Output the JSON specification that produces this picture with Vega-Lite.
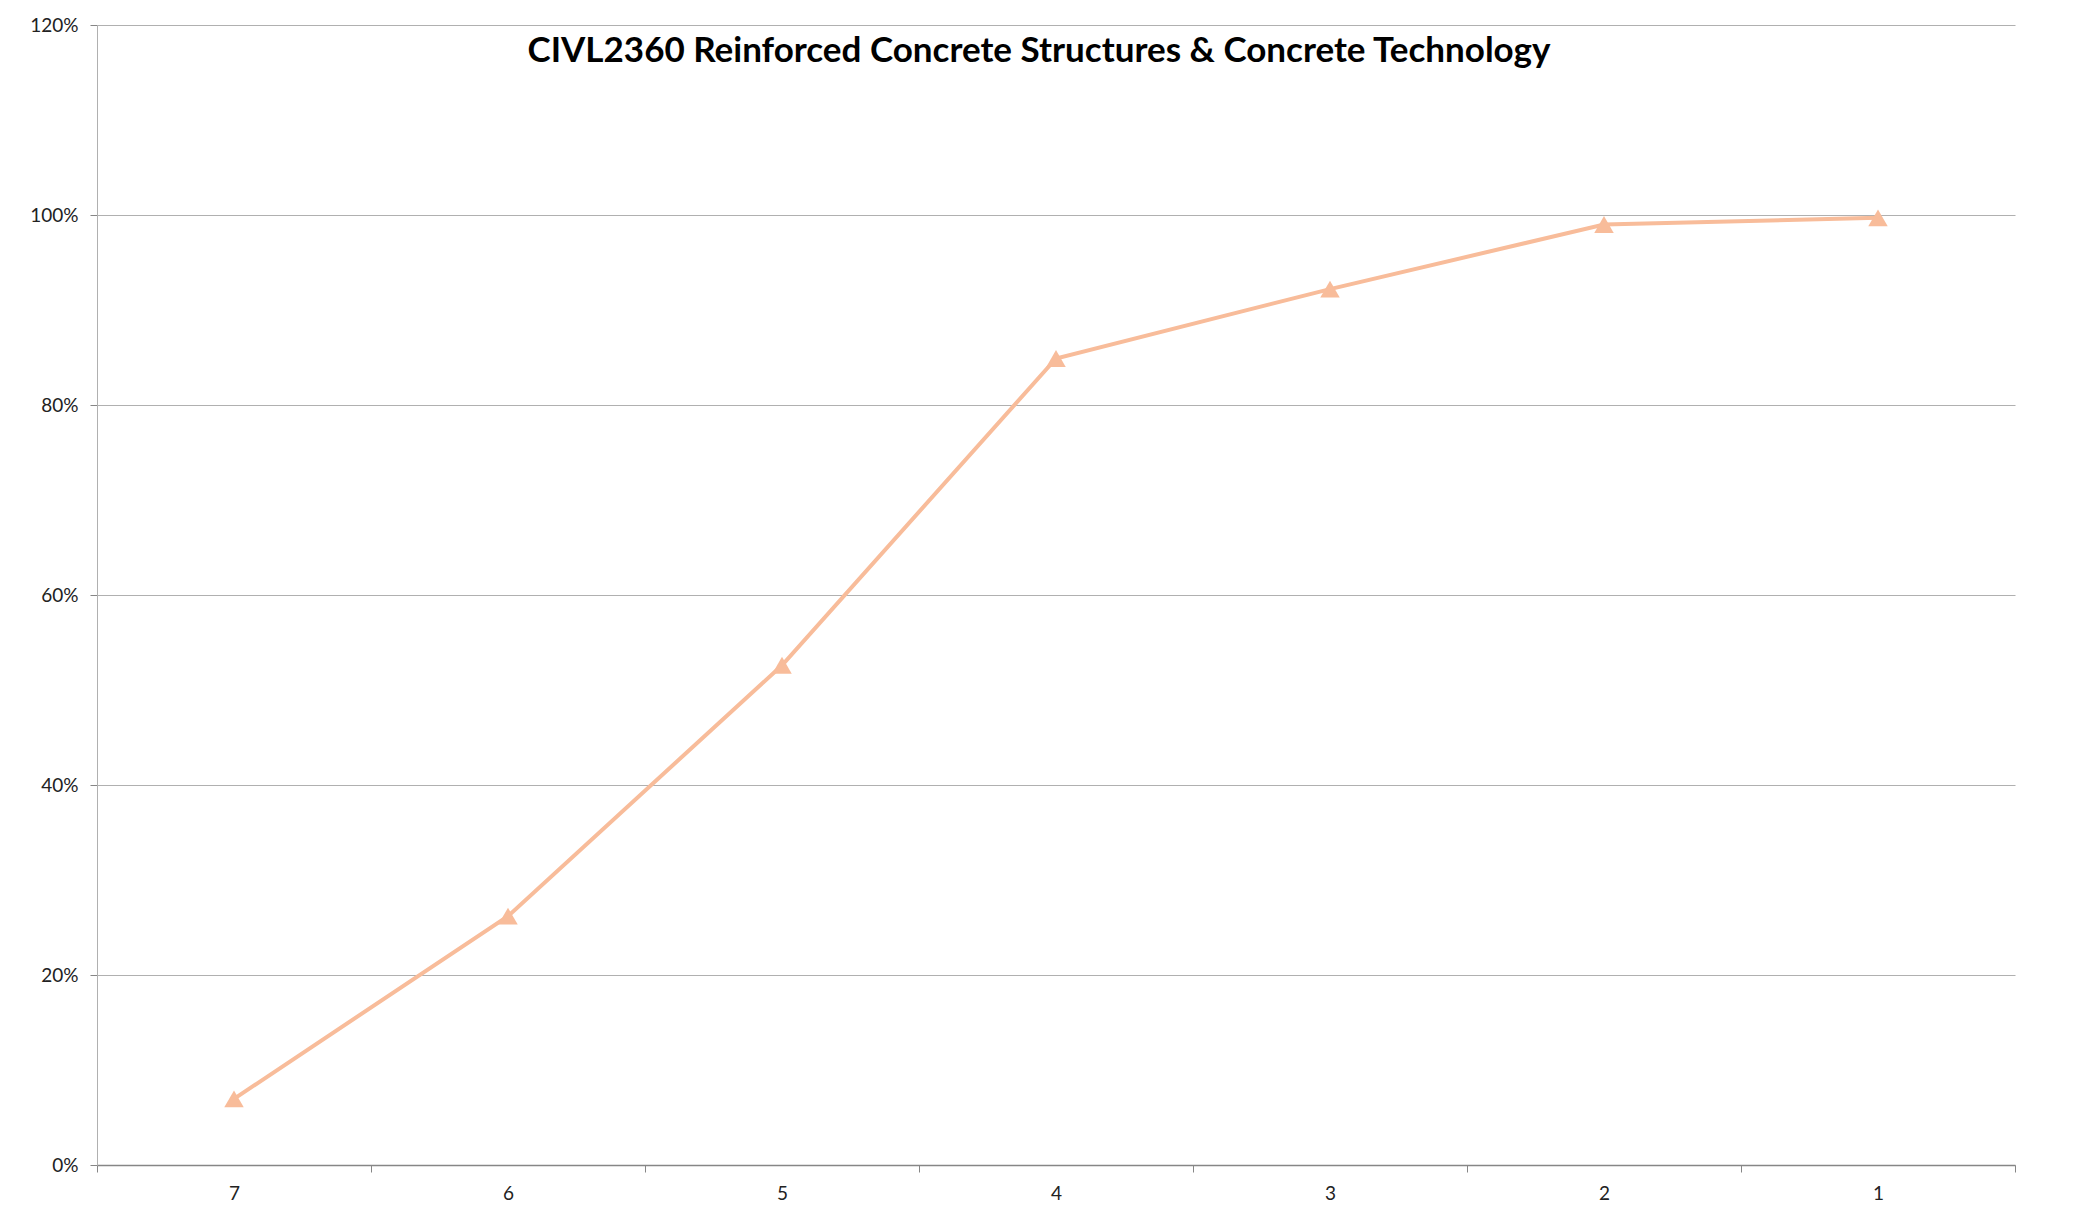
{
  "$schema": "https://vega.github.io/schema/vega-lite/v6.json",
  "width": 1918,
  "height": 1140,
  "autosize": {"type": "none"},
  "padding": {"left": 97, "top": 25, "right": 58, "bottom": 54},
  "background": "white",
  "config": {"view": {"stroke": null}, "font": "Lato"},
  "title": {
    "text": "CIVL2360 Reinforced Concrete Structures & Concrete Technology",
    "font": "Lato",
    "fontSize": 35,
    "fontWeight": "bold",
    "color": "#000000",
    "orient": "none",
    "anchor": "middle",
    "align": "center",
    "baseline": "alphabetic",
    "dx": 942,
    "dy": 37
  },
  "data": {
    "values": [
      {"grade": "7", "pct": 0.0696},
      {"grade": "6", "pct": 0.262},
      {"grade": "5", "pct": 0.526},
      {"grade": "4", "pct": 0.849},
      {"grade": "3", "pct": 0.922},
      {"grade": "2", "pct": 0.990},
      {"grade": "1", "pct": 0.997}
    ]
  },
  "encoding": {
    "x": {
      "field": "grade",
      "type": "nominal",
      "sort": ["7", "6", "5", "4", "3", "2", "1"],
      "bandPosition": 0.5,
      "scale": {"type": "band", "paddingInner": 0, "paddingOuter": 0},
      "axis": {
        "title": null,
        "labelAngle": 0,
        "tickBand": "extent",
        "tickSize": 7,
        "tickColor": "#868686",
        "domainColor": "#868686",
        "domainWidth": 1.5,
        "labelFont": "Lato",
        "labelFontSize": 19,
        "labelColor": "#222222",
        "labelPadding": 12,
        "grid": false
      }
    },
    "y": {
      "field": "pct",
      "type": "quantitative",
      "scale": {"domain": [0, 1.2], "nice": false},
      "axis": {
        "title": null,
        "values": [0, 0.2, 0.4, 0.6, 0.8, 1.0, 1.2],
        "format": ".0%",
        "tickSize": 7,
        "tickColor": "#868686",
        "domainColor": "#b0b0b0",
        "gridColor": "#b0b0b0",
        "gridWidth": 1.2,
        "labelFont": "Lato",
        "labelFontSize": 19,
        "labelColor": "#222222",
        "labelPadding": 12
      }
    }
  },
  "layer": [
    {"mark": {"type": "line", "color": "#F8BC9A", "strokeWidth": 4}},
    {"mark": {"type": "point", "shape": "triangle-up", "filled": true, "size": 380, "color": "#F8BC9A", "opacity": 1}}
  ]
}
